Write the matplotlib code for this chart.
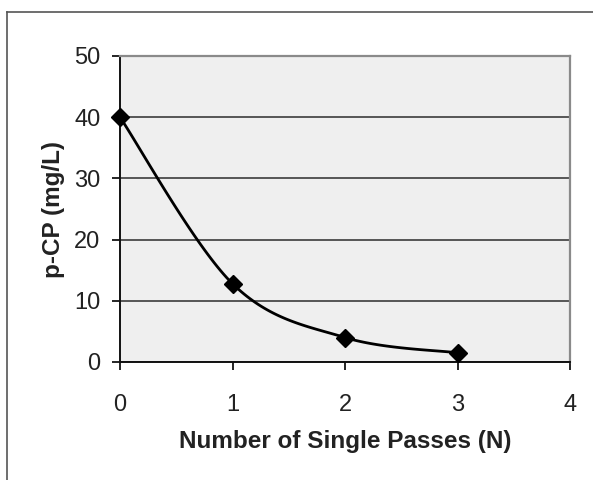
import numpy as np
import matplotlib
matplotlib.use("Agg")
import matplotlib.pyplot as plt
from matplotlib.lines import Line2D

plt.rcParams['font.family'] = ['Liberation Sans', 'DejaVu Sans']

# Data
passes = [0, 1, 2, 3]
pcp = [40.0, 12.8, 4.0, 1.5]
x_ticks = [0, 1, 2, 3, 4]
y_ticks = [0, 10, 20, 30, 40, 50]
x_label = "Number of Single Passes (N)"
y_label = "p-CP (mg/L)"


def smooth_curve(xs, ys, n=40):
    """Catmull-Rom style Bezier smoothing through the given points."""
    xs = np.asarray(xs, float)
    ys = np.asarray(ys, float)
    pts = np.column_stack([xs, ys])
    out = []
    for i in range(len(pts) - 1):
        p0 = pts[i - 1] if i > 0 else pts[i]
        p1 = pts[i]
        p2 = pts[i + 1]
        p3 = pts[i + 2] if i + 2 < len(pts) else pts[i + 1]
        c1 = p1 + (p2 - p0) / 6.0
        c2 = p2 - (p3 - p1) / 6.0
        t = np.linspace(0, 1, n)[:, None]
        seg = ((1 - t) ** 3) * p1 + 3 * ((1 - t) ** 2) * t * c1 \
            + 3 * (1 - t) * t ** 2 * c2 + t ** 3 * p2
        out.append(seg if i == 0 else seg[1:])
    seg = np.vstack(out)
    return seg[:, 0], seg[:, 1]


fig = plt.figure(figsize=(5.93, 4.8), dpi=100)
fig.patch.set_facecolor('white')

# Outer chart frame (top and left edges)
fig.add_artist(Line2D([7 / 593, 7 / 593], [0, 1 - 12 / 480], transform=fig.transFigure,
                      color='#555555', lw=1.2))
fig.add_artist(Line2D([7 / 593, 1], [1 - 12 / 480, 1 - 12 / 480], transform=fig.transFigure,
                      color='#555555', lw=1.2))

L, R, T, B = 120, 570, 56, 362
ax = fig.add_axes([L / 593, 1 - B / 480, (R - L) / 593, (B - T) / 480])
ax.set_facecolor('#efefef')

ax.set_xlim(0, 4)
ax.set_ylim(0, 50)
ax.set_xticks(x_ticks)
ax.set_yticks(y_ticks)
ax.tick_params(axis='both', labelsize=17, length=6, width=1.2, direction='out',
               colors='black', labelcolor='#222222')
ax.tick_params(axis='x', pad=17)
ax.tick_params(axis='y', pad=8)

ax.yaxis.grid(True, color='#3c3c3c', lw=1.2)
ax.set_axisbelow(True)

for side in ['top', 'right']:
    ax.spines[side].set_color('#8a8a8a')
    ax.spines[side].set_linewidth(1.6)
for side in ['left', 'bottom']:
    ax.spines[side].set_color('#111111')
    ax.spines[side].set_linewidth(1.4)

sx, sy = smooth_curve(passes, pcp)
ax.plot(sx, sy, color='black', lw=2, clip_on=False, zorder=3)
ax.plot(passes, pcp, linestyle='none', marker='D', markersize=9,
        color='black', clip_on=False, zorder=4)

ax.set_xlabel(x_label, fontsize=17.5, fontweight='bold', labelpad=10, color='#222222')
ax.set_ylabel(y_label, fontsize=17.5, fontweight='bold', labelpad=7, color='#222222')

fig.savefig('out.png', dpi=100, facecolor='white')
